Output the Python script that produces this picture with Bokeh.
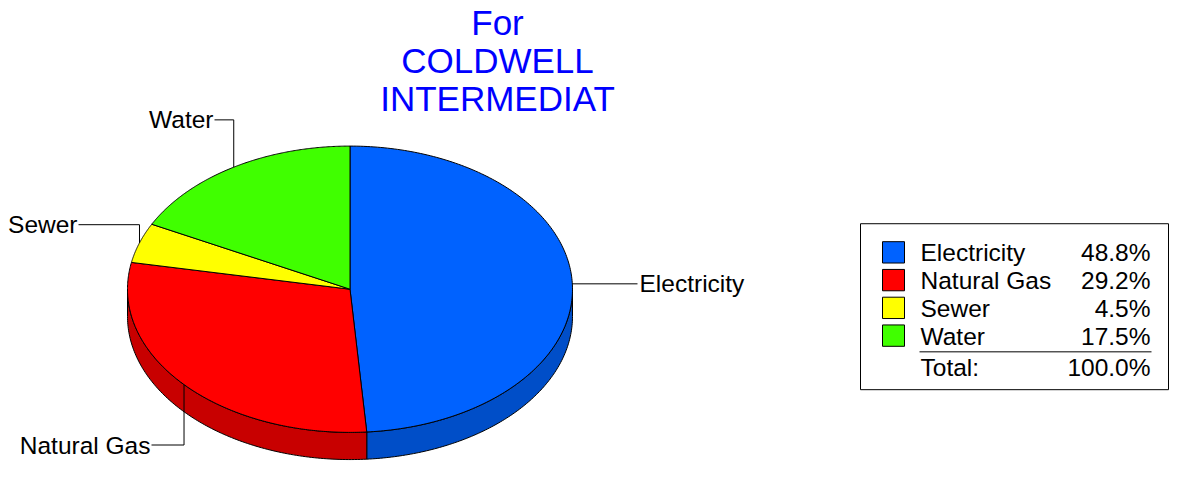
import numpy as np
from bokeh.plotting import figure
from bokeh.models import Range1d
from bokeh.core.properties import value
from bokeh.embed import file_html
from bokeh.resources import INLINE

# ---- data ----
categories = ["Electricity", "Natural Gas", "Sewer", "Water"]
percents = [48.8, 29.2, 4.5, 17.5]
top_colors = ["#0062FF", "#FF0000", "#FFFF00", "#40FF00"]
side_colors = ["#004EC8", "#C80000", "#C8C800", "#32C800"]
title_lines = ["For", "COLDWELL", "INTERMEDIAT"]

FONT = value("Liberation Sans")
LBL = "24.5px"

W, H = 1170, 461
p = figure(width=W, height=H, output_backend="svg", toolbar_location=None,
           x_range=Range1d(0, W), y_range=Range1d(475, 0),
           min_border=0, outline_line_color=None)
p.axis.visible = False
p.grid.visible = False
p.background_fill_color = "white"
p.border_fill_color = "white"

# ---- pie geometry (layout) ----
cx, cy, rx, ry, depth = 349.5, 297.5, 222.5, 147.5, 28.0

def pt(theta):
    return cx + rx * np.cos(theta), cy - ry * np.sin(theta)

total = sum(percents)
starts, ends = [], []
a = np.pi / 2
for v in percents:
    span = v / total * 2 * np.pi
    starts.append(a)
    ends.append(a - span)
    a -= span

# side walls (front half: theta in [-pi, 0])
for s, e, col in zip(starts, ends, side_colors):
    lo, hi = max(e, -np.pi), min(s, 0.0)
    if hi > lo:
        th = np.linspace(hi, lo, 120)
        xs, ys = pt(th)
        px = list(xs) + list(xs[::-1])
        py = list(ys) + list((ys + depth)[::-1])
        p.patch(px, py, fill_color=col, line_color="black", line_width=1)

# top slices
for s, e, col in zip(starts, ends, top_colors):
    th = np.linspace(s, e, 200)
    xs, ys = pt(th)
    px = [cx] + list(xs) + [cx]
    py = [cy] + list(ys) + [cy]
    p.patch(px, py, fill_color=col, line_color="black", line_width=1)

# ---- leader lines and labels ----
mids = [(s + e) / 2 for s, e in zip(starts, ends)]
for cat, m in zip(categories, mids):
    ax, ay = pt(m)
    if cat == "Electricity":
        xs, ys = [ax, 637], [ay, ay]
        tx, ty, al = 639, ay, "left"
    elif cat == "Natural Gas":
        xs, ys = [ax, ax, 151], [ay, 458, 458]
        tx, ty, al = 150, 458, "right"
    elif cat == "Sewer":
        xs, ys = [ax, ax, 78], [ay, 231, 231]
        tx, ty, al = 77, 231, "right"
    else:
        xs, ys = [ax, ax, 214], [ay, 123, 123]
        tx, ty, al = 213, 123, "right"
    p.line(xs, ys, line_color="black", line_width=1)
    p.text([tx], [ty], text=[cat], text_font=FONT, text_font_size=LBL,
           text_color="black", text_align=al, text_baseline="middle")

# ---- title ----
p.text([497] * 3, [23, 62, 101], text=title_lines, text_font=FONT,
       text_font_size="35px", text_color="#0000FF", text_align="center",
       text_baseline="middle")

# ---- legend box ----
p.quad(left=[860], right=[1168], top=[230], bottom=[401],
       fill_color="white", line_color="black", line_width=1)
row_y = [259.5 + 28.6 * i for i in range(len(categories))]
p.quad(left=[882] * 4, right=[904] * 4,
       top=[y - 11 for y in row_y], bottom=[y + 11 for y in row_y],
       fill_color=top_colors, line_color="black", line_width=1)
p.text([920] * 4, [y + 0.5 for y in row_y], text=categories, text_font=FONT,
       text_font_size=LBL, text_color="black", text_align="left",
       text_baseline="middle")
p.text([1150] * 4, [y + 0.5 for y in row_y], text=[f"{v:.1f}%" for v in percents],
       text_font=FONT, text_font_size=LBL, text_color="black",
       text_align="right", text_baseline="middle")
p.segment(x0=[919], y0=[362], x1=[1151], y1=[362], line_color="black", line_width=1)
p.text([920], [378], text=["Total:"], text_font=FONT, text_font_size=LBL,
       text_color="black", text_align="left", text_baseline="middle")
p.text([1150], [378], text=[f"{total:.1f}%"], text_font=FONT, text_font_size=LBL,
       text_color="black", text_align="right", text_baseline="middle")

open("out.html", "w").write(file_html(p, INLINE))
